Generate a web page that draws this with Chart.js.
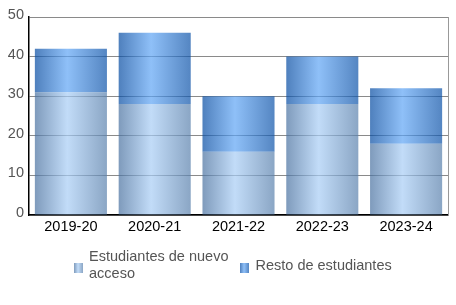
<!DOCTYPE html>
<html><head><meta charset="utf-8">
<script src="https://cdn.jsdelivr.net/npm/chart.js@4.4.1/dist/chart.umd.min.js"></script>
<style>
html,body{margin:0;padding:0;background:#fff}
#wrap{position:relative;width:456px;height:305px}
#legend{position:absolute;left:74px;top:248px;display:flex;align-items:center;gap:12px;
  font-family:"Liberation Sans",Arial,sans-serif;font-size:14.5px;line-height:17px;color:#555}
#legend .item{display:flex;align-items:center}
#legend .box{width:9px;height:10px;margin-right:6px;margin-top:5px;flex:none}
</style>
</head><body><div id="wrap"><canvas id="c" width="456" height="305"></canvas><div id="legend"></div></div>
<script>
const categories = ['2019-20', '2020-21', '2021-22', '2022-23', '2023-24'];
const nuevoAcceso = [31, 28, 16, 28, 18];
const restoEstudiantes = [11, 18, 14, 12, 14];
const seriesNames = [['Estudiantes de nuevo', 'acceso'], ['Resto de estudiantes']];
const yMax = 50;
const yStep = 10;

// semi-transparent gradient stops (edge, highlight, edge)
const palettes = [
  ['rgba(72,112,159,0.7)', 'rgba(168,205,245,0.7)', 'rgba(89,128,172,0.7)'],
  ['rgba(4,74,161,0.7)', 'rgba(95,165,245,0.7)', 'rgba(12,82,168,0.7)']
];
const legendPalettes = [
  ['#7f9bbc', '#c2dcf8', '#8ba6c5'],
  ['#4f80bd', '#8fc0f8', '#5586c2']
];

function barGradient(ctx, p) {
  const chart = ctx.chart;
  const xs = chart.scales.x;
  if (!chart.chartArea || !xs) return p[0];
  const center = xs.getPixelForValue(ctx.dataIndex);
  const w = (xs.width / categories.length) * 0.86;
  const g = chart.ctx.createLinearGradient(center - w / 2, 0, center + w / 2, 0);
  g.addColorStop(0, p[0]);
  g.addColorStop(0.45, p[1]);
  g.addColorStop(1, p[2]);
  return g;
}

const htmlLegend = {
  id: 'htmlLegend',
  afterUpdate(chart) {
    const el = document.getElementById('legend');
    el.innerHTML = '';
    chart.data.datasets.forEach((ds, i) => {
      const item = document.createElement('div');
      item.className = 'item';
      const box = document.createElement('span');
      box.className = 'box';
      const p = legendPalettes[i];
      box.style.background = 'linear-gradient(to right,' + p[0] + ' 0%,' + p[1] + ' 45%,' + p[2] + ' 100%)';
      const txt = document.createElement('span');
      seriesNames[i].forEach((line, k) => {
        if (k) txt.appendChild(document.createElement('br'));
        txt.appendChild(document.createTextNode(line));
      });
      item.appendChild(box);
      item.appendChild(txt);
      el.appendChild(item);
    });
  }
};

const FONT = '"Liberation Sans", Arial, sans-serif';

new Chart(document.getElementById('c'), {
  type: 'bar',
  data: {
    labels: categories,
    datasets: [
      { label: seriesNames[0].join(' '), data: nuevoAcceso, backgroundColor: c => barGradient(c, palettes[0]), borderWidth: 0 },
      { label: seriesNames[1].join(' '), data: restoEstudiantes, backgroundColor: c => barGradient(c, palettes[1]), borderWidth: 0 }
    ]
  },
  plugins: [htmlLegend],
  options: {
    responsive: false,
    animation: false,
    devicePixelRatio: 1,
    categoryPercentage: 0.86,
    barPercentage: 1.0,
    layout: { padding: { left: 0, top: 17, right: 0, bottom: 68 } },
    font: { family: FONT },
    scales: {
      x: {
        stacked: true,
        grid: { display: false, drawTicks: false },
        border: { display: true, color: '#000', width: 1.5 },
        ticks: { color: '#000', font: { size: 14.5, family: FONT }, padding: 3 },
        afterFit: s => { s.height = 22; }
      },
      y: {
        stacked: true,
        min: 0, max: yMax,
        grid: { color: '#8a8a8a', drawTicks: false, lineWidth: 1 },
        border: { display: true, color: '#000', width: 1.5 },
        ticks: { stepSize: yStep, color: '#555', font: { size: 14.5, family: FONT }, padding: 5, labelOffset: -2 },
        afterFit: s => { s.width = 29; }
      },
      y2: {
        position: 'right',
        min: 0, max: yMax,
        grid: { drawOnChartArea: false, drawTicks: false },
        border: { display: true, color: '#999', width: 1 },
        ticks: { display: false },
        afterFit: s => { s.width = 8; }
      }
    },
    plugins: {
      tooltip: { enabled: false },
      legend: { display: false }
    }
  }
});
</script></body></html>
